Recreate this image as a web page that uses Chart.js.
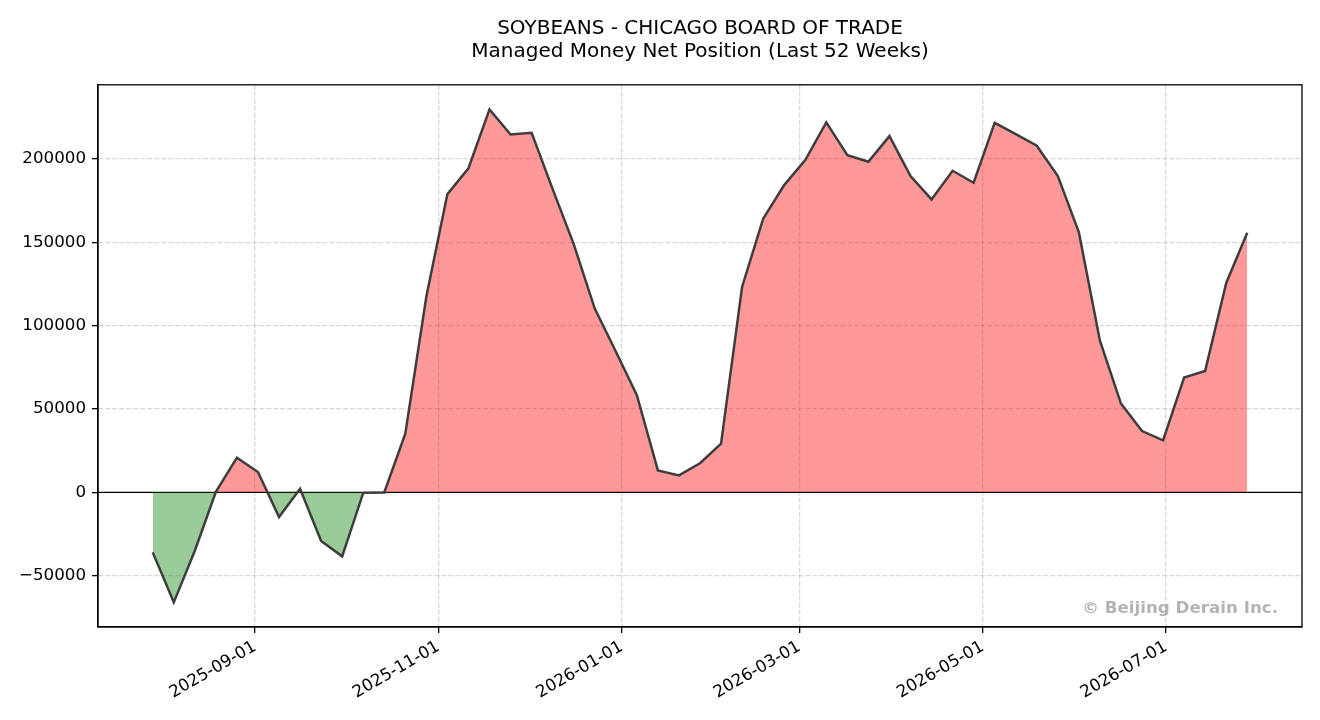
<!DOCTYPE html>
<html>
<head>
<meta charset="utf-8">
<script src="https://cdn.jsdelivr.net/npm/chart.js@4.4.1/dist/chart.umd.min.js"></script>
<style>
  html, body { margin: 0; padding: 0; background: #fff; }
  #wrap { width: 1320px; height: 720px; }
</style>
</head>
<body>
<div id="wrap"><canvas id="cot" width="1320" height="720"></canvas></div>
<script>
// weekly report dates (Tuesdays)
const weeks = [
    '2025-07-29', '2025-08-05', '2025-08-12', '2025-08-19', '2025-08-26',
    '2025-09-02', '2025-09-09', '2025-09-16', '2025-09-23', '2025-09-30',
    '2025-10-07', '2025-10-14', '2025-10-21', '2025-10-28',
    '2025-11-04', '2025-11-11', '2025-11-18', '2025-11-25',
    '2025-12-02', '2025-12-09', '2025-12-16', '2025-12-23', '2025-12-30',
    '2026-01-06', '2026-01-13', '2026-01-20', '2026-01-27',
    '2026-02-03', '2026-02-10', '2026-02-17', '2026-02-24',
    '2026-03-03', '2026-03-10', '2026-03-17', '2026-03-24', '2026-03-31',
    '2026-04-07', '2026-04-14', '2026-04-21', '2026-04-28',
    '2026-05-05', '2026-05-12', '2026-05-19', '2026-05-26',
    '2026-06-02', '2026-06-09', '2026-06-16', '2026-06-23', '2026-06-30',
    '2026-07-07', '2026-07-14', '2026-07-21', '2026-07-28'
];

// managed money net position (contracts)
const netPosition = [
    -36000, -66000, -35000, 300, 20800,
    12200, -14800, 2200, -29200, -38400,
    -300, -100, 35200, 117500,
    179000, 194500, 229800, 214800,
    215800, 182000, 149000, 110300, 84500,
    58300, 13200, 10200, 17500,
    29200, 123300, 164200, 184400,
    199400, 222000, 202400, 198400, 213800,
    189800, 175800, 193000, 185800,
    221800, 215000, 208000, 189800,
    156000, 91000, 53300, 36800, 31200,
    68900, 72900, 125700, 155800
];

const xTickDates = ['2025-09-01', '2025-11-01', '2026-01-01', '2026-03-01', '2026-05-01', '2026-07-01'];
const yTicks = [-50000, 0, 50000, 100000, 150000, 200000];

const DAY = 86400000;
const toDay = s => {
    const [y, m, d] = s.split('-').map(Number);
    return Date.UTC(y, m - 1, d) / DAY;
};
const fmtDay = v => new Date(v * DAY).toISOString().slice(0, 10);

const points = weeks.map((w, i) => ({ x: toDay(w), y: netPosition[i] }));

// matplotlib-like 5% margins
const xFirst = toDay(weeks[0]);
const xLast = toDay(weeks[weeks.length - 1]);
const xPad = (xLast - xFirst) * 0.05;
const yMinData = Math.min(...netPosition);
const yMaxData = Math.max(...netPosition);
const yPad = (yMaxData - yMinData) * 0.05;

const FONT = "'DejaVu Sans', 'Liberation Sans', sans-serif";
const gridColor = 'rgba(176,176,176,0.5)';

// frame, zero line and watermark
const decorPlugin = {
    id: 'decor',
    beforeDatasetsDraw(chart) {
        const { ctx, chartArea, scales } = chart;
        const y0 = scales.y.getPixelForValue(0);
        ctx.save();
        ctx.strokeStyle = '#000';
        ctx.lineWidth = 1.3;
        ctx.beginPath();
        ctx.moveTo(chartArea.left, y0);
        ctx.lineTo(chartArea.right, y0);
        ctx.stroke();
        ctx.restore();
    },
    afterDraw(chart) {
        const { ctx, chartArea } = chart;
        ctx.save();
        ctx.strokeStyle = '#000';
        ctx.lineWidth = 1.3;
        ctx.strokeRect(chartArea.left, chartArea.top,
            chartArea.right - chartArea.left, chartArea.bottom - chartArea.top);

        ctx.font = "bold 16.7px " + FONT;
        ctx.fillStyle = 'rgba(128,128,128,0.6)';
        ctx.textAlign = 'right';
        ctx.textBaseline = 'alphabetic';
        ctx.fillText('\u00a9 Beijing Derain Inc.', chartArea.right - 24, chartArea.bottom - 14);
        ctx.restore();
    }
};

new Chart(document.getElementById('cot'), {
    type: 'line',
    data: {
        datasets: [{
            label: 'Net Position',
            data: points,
            borderColor: '#3d3d3d',
            borderWidth: 2.5,
            pointRadius: 0,
            tension: 0,
            fill: {
                target: 'origin',
                above: 'rgba(255,0,0,0.4)',
                below: 'rgba(0,128,0,0.4)'
            }
        }]
    },
    options: {
        responsive: false,
        animation: false,
        devicePixelRatio: 1,
        layout: { padding: { left: 0, right: 18, top: 0, bottom: 0 } },
        plugins: {
            legend: { display: false },
            tooltip: { enabled: false },
            title: {
                display: true,
                fullSize: false,
                text: ['SOYBEANS - CHICAGO BOARD OF TRADE', 'Managed Money Net Position (Last 52 Weeks)'],
                color: '#000',
                font: { family: FONT, size: 20, weight: 'normal', lineHeight: 1.17 },
                padding: { top: 17, bottom: 21 }
            }
        },
        scales: {
            x: {
                type: 'linear',
                min: xFirst - xPad,
                max: xLast + xPad,
                afterBuildTicks: scale => {
                    scale.ticks = xTickDates.map(d => ({ value: toDay(d) }));
                },
                afterFit: scale => { scale.height = 93; },
                grid: {
                    color: gridColor,
                    lineWidth: 1.3,
                    drawTicks: true,
                    tickLength: 6,
                    tickColor: '#000',
                    tickWidth: 1.3,
                    tickBorderDash: []
                },
                border: { display: true, color: '#000', width: 1.3, dash: [5, 2] },
                ticks: {
                    color: '#000',
                    font: { family: FONT, size: 16.7 },
                    minRotation: 30,
                    maxRotation: 30,
                    padding: 4,
                    callback: v => fmtDay(v)
                }
            },
            y: {
                type: 'linear',
                min: yMinData - yPad,
                max: yMaxData + yPad,
                afterBuildTicks: scale => {
                    scale.ticks = yTicks.map(v => ({ value: v }));
                },
                afterFit: scale => { scale.width = 98; },
                grid: {
                    color: gridColor,
                    lineWidth: 1.3,
                    drawTicks: true,
                    tickLength: 6,
                    tickColor: '#000',
                    tickWidth: 1.3,
                    tickBorderDash: []
                },
                border: { display: true, color: '#000', width: 1.3, dash: [5, 2] },
                ticks: {
                    color: '#000',
                    font: { family: FONT, size: 16.7 },
                    padding: 6,
                    callback: v => (v < 0 ? '\u2212' + Math.abs(v) : String(v))
                }
            }
        }
    },
    plugins: [decorPlugin]
});
</script>
</body>
</html>
